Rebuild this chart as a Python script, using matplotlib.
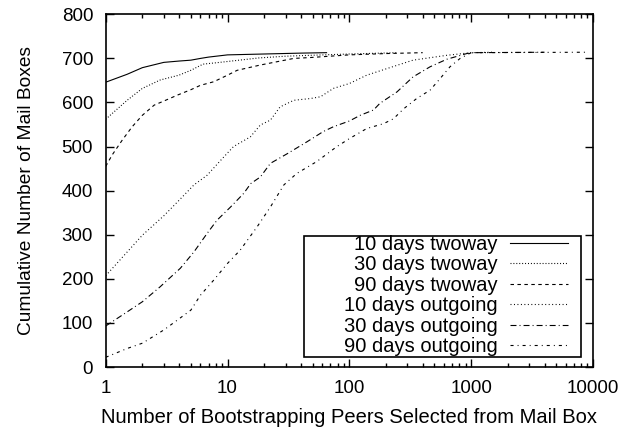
import matplotlib
matplotlib.use('Agg')
import matplotlib.pyplot as plt
from matplotlib.patches import Rectangle
from matplotlib.ticker import LogLocator, FixedLocator, NullFormatter

plt.rcParams['font.family'] = ['Liberation Sans', 'DejaVu Sans']
plt.rcParams['lines.scale_dashes'] = False

# Cumulative number of mail boxes vs. number of bootstrapping peers
tw10_x = [1, 1.5, 2, 3, 4, 5, 6, 7, 10, 20, 40, 65]
tw10_y = [646, 664, 679, 691, 694, 696, 700, 703, 708, 710, 712, 713]

tw30_x = [1, 1.5, 2, 2.8, 4, 5, 6.3, 8, 10, 18, 30, 48, 100, 250]
tw30_y = [562, 605, 632, 651, 662, 673, 687, 690, 693, 701, 705, 707, 710, 713]

tw90_x = [1, 1.13, 1.37, 1.65, 2, 2.5, 3.1, 3.9, 5, 6, 7.7, 10, 12, 18.6,
          35, 48, 100, 200, 400]
tw90_y = [455, 481, 515, 545, 571, 594, 605, 617, 629, 639, 647, 662, 673,
          685, 700, 702, 708, 711, 713]

og10_x = [1, 2, 3, 3.9, 5.3, 6.8, 8.8, 11.2, 15.4, 18.6, 22.5, 27, 35, 48,
          58, 74, 100, 139, 204, 333, 630, 1000, 1500]
og10_y = [207, 299, 343, 375, 413, 435, 469, 500, 522, 549, 560, 590, 605,
          609, 613, 632, 643, 662, 677, 696, 707, 713, 714]

og30_x = [1, 1.5, 2, 2.8, 4.1, 5.3, 6.8, 8.2, 10.6, 13.6, 15.5, 18.6, 22.5,
          31, 45, 61, 74, 100, 123, 158, 178, 246, 333, 460, 630, 920, 1040,
          4000]
og30_y = [93, 125, 148, 182, 224, 261, 303, 333, 363, 394, 416, 431, 462,
          484, 511, 534, 545, 558, 571, 583, 598, 624, 658, 681, 698, 711,
          713, 714]

og90_x = [1, 1.5, 2, 3, 3.9, 5, 6, 7.7, 10, 12.7, 17.5, 22.5, 29, 37, 54,
          79, 100, 139, 191, 230, 280, 357, 460, 555, 670, 812, 1000, 9100]
og90_y = [22, 42, 54, 84, 107, 129, 163, 197, 235, 265, 318, 363, 413, 439,
          466, 500, 518, 541, 552, 563, 586, 609, 628, 654, 681, 700, 713,
          714]

fig = plt.figure(figsize=(6.39, 4.30), dpi=100)
ax = fig.add_axes([0.1654, 0.1465, 0.928 - 0.1654, 0.9667 - 0.1465])

lw = 0.8
ax.plot(tw10_x, tw10_y, color='black', lw=lw, linestyle='-',
        label='10 days twoway')
ax.plot(tw30_x, tw30_y, color='black', lw=lw, linestyle=(0, (0.7, 1.4)),
        label='30 days twoway')
ax.plot(tw90_x, tw90_y, color='black', lw=lw, linestyle=(0, (2.5, 2.5)),
        label='90 days twoway')
ax.plot(og10_x, og10_y, color='black', lw=lw, linestyle=(0, (0.7, 1.8)),
        label='10 days outgoing')
ax.plot(og30_x, og30_y, color='black', lw=lw,
        linestyle=(0, (4.3, 2.2, 0.7, 2.2)), label='30 days outgoing')
ax.plot(og90_x, og90_y, color='black', lw=lw,
        linestyle=(0, (2.2, 2.9, 0.7, 2.9)), label='90 days outgoing')

ax.set_xscale('log')
ax.set_xlim(1, 10000)
ax.set_ylim(0, 800)
ax.yaxis.set_major_locator(FixedLocator(range(0, 801, 100)))
ax.xaxis.set_minor_locator(LogLocator(base=10, subs=range(2, 10), numticks=20))
ax.xaxis.set_minor_formatter(NullFormatter())
ax.set_xticks([1, 10, 100, 1000, 10000])
ax.set_xticklabels(['1', '10', '100', '1000', '10000'])

ax.tick_params(which='both', direction='in', top=True, right=True,
               labelsize=13.5, width=1, color='black')
ax.tick_params(which='major', length=6, pad=9)
ax.tick_params(which='minor', length=3)
for s in ax.spines.values():
    s.set_linewidth(1.2)

ax.set_xlabel('Number of Bootstrapping Peers Selected from Mail Box',
              fontsize=14.5, labelpad=8)
ax.set_ylabel('Cumulative Number of Mail Boxes', fontsize=13.8, labelpad=19)

# legend: gnuplot-style box with right-aligned labels
ax.add_patch(Rectangle((0.407, 0.0284), 0.9754 - 0.407, 0.3714 - 0.0284,
                       transform=ax.transAxes, fill=True, facecolor='white',
                       edgecolor='black', lw=1.2, zorder=3))
leg = ax.legend(loc='lower right', bbox_to_anchor=(0.9487, 0.03),
                markerfirst=False, fontsize=14.5, handlelength=2.9,
                labelspacing=0.075, borderpad=0, handletextpad=0.6,
                borderaxespad=0, frameon=False)
leg.set_zorder(4)
for t in leg.get_texts():
    t.set_ha('right')
leg._legend_box.align = 'right'

fig.savefig('out.png', dpi=100)
